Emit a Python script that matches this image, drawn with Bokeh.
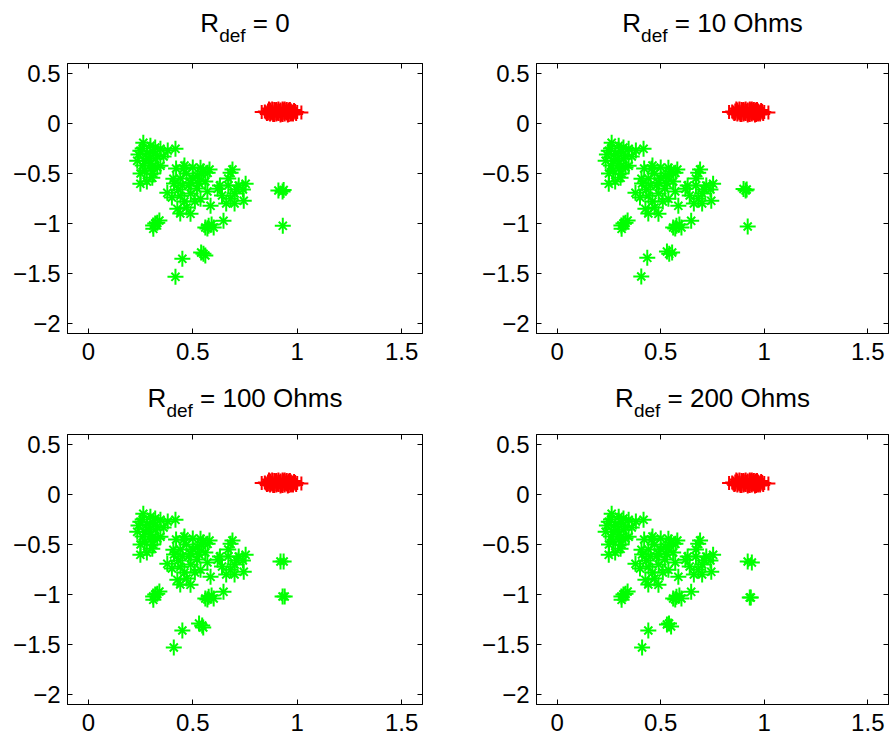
from bokeh.plotting import figure
from bokeh.layouts import column, row
from bokeh.models import Range1d, FixedTicker, LinearAxis
from bokeh.core.properties import value
from bokeh.embed import file_html
from bokeh.resources import INLINE

# ---------------- data ----------------
x_ticks = [0, 0.5, 1, 1.5]
x_tick_labels = ["0", "0.5", "1", "1.5"]
y_ticks = [-2, -1.5, -1, -0.5, 0, 0.5]
y_tick_labels = ["-2", "-1.5", "-1", "-0.5", "0", "0.5"]

title_main = "R"
title_sub = "def"
title_rest = ["= 0", "= 10 Ohms", "= 100 Ohms", "= 200 Ohms"]

# red "+" cluster (shared by all panels)
red_x = [0.83, 0.85, 0.86, 0.87, 0.87, 0.88, 0.88, 0.89, 0.89, 0.90,
         0.90, 0.90, 0.91, 0.91, 0.92, 0.92, 0.92, 0.93, 0.93, 0.93,
         0.94, 0.94, 0.94, 0.95, 0.95, 0.95, 0.96, 0.96, 0.97, 0.97,
         0.98, 0.98, 0.99, 1.00, 1.02, 0.88, 0.91, 0.94, 0.96, 0.90,
         0.845, 0.855, 0.865, 0.875, 0.885, 0.895, 0.905, 0.915, 0.925, 0.935,
         0.945, 0.955, 0.965, 0.975, 0.985, 0.995, 0.86, 0.88, 0.90, 0.92,
         0.94, 0.96, 0.98, 0.87, 0.89, 0.91, 0.93, 0.95, 0.97, 0.99]
red_y = [0.115, 0.11, 0.13, 0.09, 0.14, 0.12, 0.10, 0.145, 0.085, 0.125,
         0.105, 0.09, 0.15, 0.11, 0.13, 0.095, 0.14, 0.12, 0.085, 0.15,
         0.105, 0.135, 0.09, 0.125, 0.145, 0.10, 0.115, 0.085, 0.13, 0.10,
         0.12, 0.09, 0.11, 0.115, 0.11, 0.115, 0.125, 0.115, 0.14, 0.135,
         0.12, 0.095, 0.15, 0.11, 0.085, 0.14, 0.10, 0.125, 0.09, 0.14,
         0.115, 0.08, 0.145, 0.11, 0.135, 0.095, 0.10, 0.15, 0.145, 0.08,
         0.15, 0.13, 0.105, 0.12, 0.11, 0.095, 0.105, 0.115, 0.09, 0.125]

# green "*" main cluster (shared)
green_x = [0.249, 0.297, 0.345, 0.273, 0.321, 0.234, 0.297, 0.345, 0.263, 0.417,
           0.249, 0.306, 0.455, 0.537, 0.489, 0.407, 0.378, 0.441, 0.426, 0.489,
           0.537, 0.523, 0.571, 0.681, 0.753, 0.619, 0.681, 0.744, 0.647, 0.585,
           0.576, 0.330, 0.311, 0.28, 0.31, 0.26, 0.33, 0.30, 0.24, 0.47,
           0.50, 0.45, 0.52, 0.56, 0.43, 0.49, 0.55, 0.67, 0.70, 0.66,
           0.72, 0.56, 0.59, 0.32,
           0.26, 0.29, 0.32, 0.27, 0.33, 0.25, 0.28, 0.31, 0.36, 0.38,
           0.42, 0.46, 0.50, 0.54, 0.58, 0.44, 0.48, 0.53, 0.57, 0.41,
           0.46, 0.51, 0.40, 0.44, 0.47, 0.69, 0.67, 0.71, 0.64, 0.70,
           0.63, 0.74, 0.57, 0.60, 0.34, 0.31]
green_y = [-0.273, -0.223, -0.253, -0.373, -0.353, -0.373, -0.453, -0.423, -0.193, -0.253,
           -0.603, -0.543, -0.453, -0.443, -0.593, -0.553, -0.693, -0.723, -0.853, -0.903,
           -0.753, -0.523, -0.493, -0.493, -0.603, -0.653, -0.753, -0.773, -0.973, -0.823,
           -1.023, -0.993, -1.053, -0.30, -0.28, -0.42, -0.32, -0.40, -0.31, -0.50,
           -0.55, -0.62, -0.65, -0.58, -0.66, -0.70, -0.48, -0.55, -0.70, -0.80,
           -0.62, -1.04, -1.01, -1.00,
           -0.25, -0.35, -0.24, -0.47, -0.44, -0.50, -0.58, -0.50, -0.33, -0.27,
           -0.45, -0.42, -0.44, -0.50, -0.46, -0.55, -0.62, -0.60, -0.68, -0.60,
           -0.78, -0.78, -0.74, -0.90, -0.84, -0.46, -0.62, -0.66, -0.72, -0.80,
           -0.62, -0.66, -1.05, -1.04, -0.97, -1.02]

# panel-specific outlying green points
out_x = [
    [0.417, 0.450, 0.551, 0.540, 0.560, 0.910, 0.935, 0.930, 0.931],
    [0.406, 0.435, 0.541, 0.555, 0.530, 0.900, 0.915, 0.910, 0.920],
    [0.409, 0.450, 0.545, 0.530, 0.550, 0.920, 0.935, 0.930, 0.940],
    [0.410, 0.440, 0.530, 0.550, 0.540, 0.920, 0.940, 0.930, 0.935],
]
out_y = [
    [-1.533, -1.353, -1.303, -1.290, -1.320, -0.670, -0.665, -0.680, -1.023],
    [-1.530, -1.343, -1.303, -1.290, -1.280, -0.655, -0.660, -0.670, -1.030],
    [-1.530, -1.360, -1.310, -1.290, -1.330, -0.670, -0.670, -1.020, -1.020],
    [-1.530, -1.360, -1.300, -1.320, -1.290, -0.670, -0.680, -1.030, -1.030],
]

# ---------------- styling ----------------
FONT = "Liberation Sans"
TICK_FS = 24
TITLE_FS = 26
SUB_FS = 19
GREEN = "#00ff00"
RED = "#ff0000"

ARIAL_W = {"R": 722, "d": 556, "e": 556, "f": 278, " ": 278, "=": 584,
           "0": 556, "1": 556, "2": 556, "O": 778, "h": 556, "m": 833, "s": 500}


def text_w(s, fs):
    return sum(ARIAL_W.get(c, 556) for c in s) / 1000.0 * fs


def key(v):
    return str(int(v)) if float(v) == int(v) else str(v)


def make_panel(i, width, height, bl, br, bt, bb):
    p = figure(width=width, height=height, output_backend="svg", toolbar_location=None,
               x_range=Range1d(-0.1, 1.6), y_range=Range1d(-2.1, 0.6),
               min_border_left=bl, min_border_right=br, min_border_top=bt, min_border_bottom=bb,
               x_axis_location=None, y_axis_location=None)
    p.grid.visible = False
    p.outline_line_color = "black"
    p.outline_line_width = 1
    p.background_fill_color = "white"
    p.border_fill_color = "white"

    for loc, ticks, labels in (("below", x_ticks, x_tick_labels), ("left", y_ticks, y_tick_labels),
                               ("above", x_ticks, None), ("right", y_ticks, None)):
        ax = LinearAxis(ticker=FixedTicker(ticks=ticks))
        ax.major_tick_in = 5
        ax.major_tick_out = 0
        ax.minor_tick_line_color = None
        ax.axis_line_color = "black"
        ax.major_tick_line_color = "black"
        if labels is None:
            ax.major_label_text_font_size = "0px"
            ax.major_label_text_color = None
            ax.major_label_standoff = 0
        else:
            ax.major_label_overrides = {key(t): l for t, l in zip(ticks, labels)}
            ax.major_label_text_font = FONT
            ax.major_label_text_font_size = f"{TICK_FS}px"
            ax.major_label_text_color = "black"
            ax.major_label_standoff = 9 if loc == "below" else 7
        p.add_layout(ax, loc)

    p.cross(red_x, red_y, size=14, line_color=RED, line_width=2)
    gx = green_x + out_x[i]
    gy = green_y + out_y[i]
    p.cross(gx, gy, size=16, line_color=GREEN, line_width=2)
    p.x(gx, gy, size=11.5, line_color=GREEN, line_width=2)
    return p


def make_title(i, width, height, cx, base):
    t = figure(width=width, height=height, output_backend="svg", toolbar_location=None,
               x_range=Range1d(0, width), y_range=Range1d(0, height),
               min_border=0, x_axis_location=None, y_axis_location=None)
    t.grid.visible = False
    t.outline_line_color = None
    t.background_fill_color = "white"
    t.border_fill_color = "white"
    rest = title_rest[i]
    w_main = text_w(title_main, TITLE_FS)
    w_sub = text_w(title_sub, SUB_FS)
    w_space = text_w(" ", TITLE_FS)
    w_rest = text_w(" " + rest, TITLE_FS)
    x0 = cx - (w_main + w_sub + w_rest) / 2.0
    common = dict(text_font=value(FONT), text_color="black", text_align="left",
                  text_baseline="alphabetic")
    t.text(x=[x0], y=[base], text=[title_main], text_font_size=value(f"{TITLE_FS}px"), **common)
    t.text(x=[x0 + w_main], y=[base - 12.7], text=[title_sub], text_font_size=value(f"{SUB_FS}px"), **common)
    t.text(x=[x0 + w_main + w_sub + w_space], y=[base], text=[rest],
           text_font_size=value(f"{TITLE_FS}px"), **common)
    return t


W1, W2 = 477, 413
BL1, BR1, BL2, BR2 = 67, 55, 59, 2
FW1, FW2 = W1 - BL1 - BR1, W2 - BL2 - BR2
TITLE_BASE = 35.5

t1 = make_title(0, W1, 58, BL1 + FW1 / 2.0, TITLE_BASE)
t2 = make_title(1, W2, 58, BL2 + FW2 / 2.0, TITLE_BASE)
p1 = make_panel(0, W1, 317, BL1, BR1, 5, 42)
p2 = make_panel(1, W2, 317, BL2, BR2, 5, 42)
t3 = make_title(2, W1, 54, BL1 + FW1 / 2.0, TITLE_BASE - 4)
t4 = make_title(3, W2, 54, BL2 + FW2 / 2.0, TITLE_BASE - 4)
p3 = make_panel(2, W1, 311, BL1, BR1, 5, 36)
p4 = make_panel(3, W2, 311, BL2, BR2, 5, 36)

layout = column(row(t1, t2, spacing=0), row(p1, p2, spacing=0),
                row(t3, t4, spacing=0), row(p3, p4, spacing=0), spacing=0)

open("out.html", "w").write(file_html(layout, INLINE))
